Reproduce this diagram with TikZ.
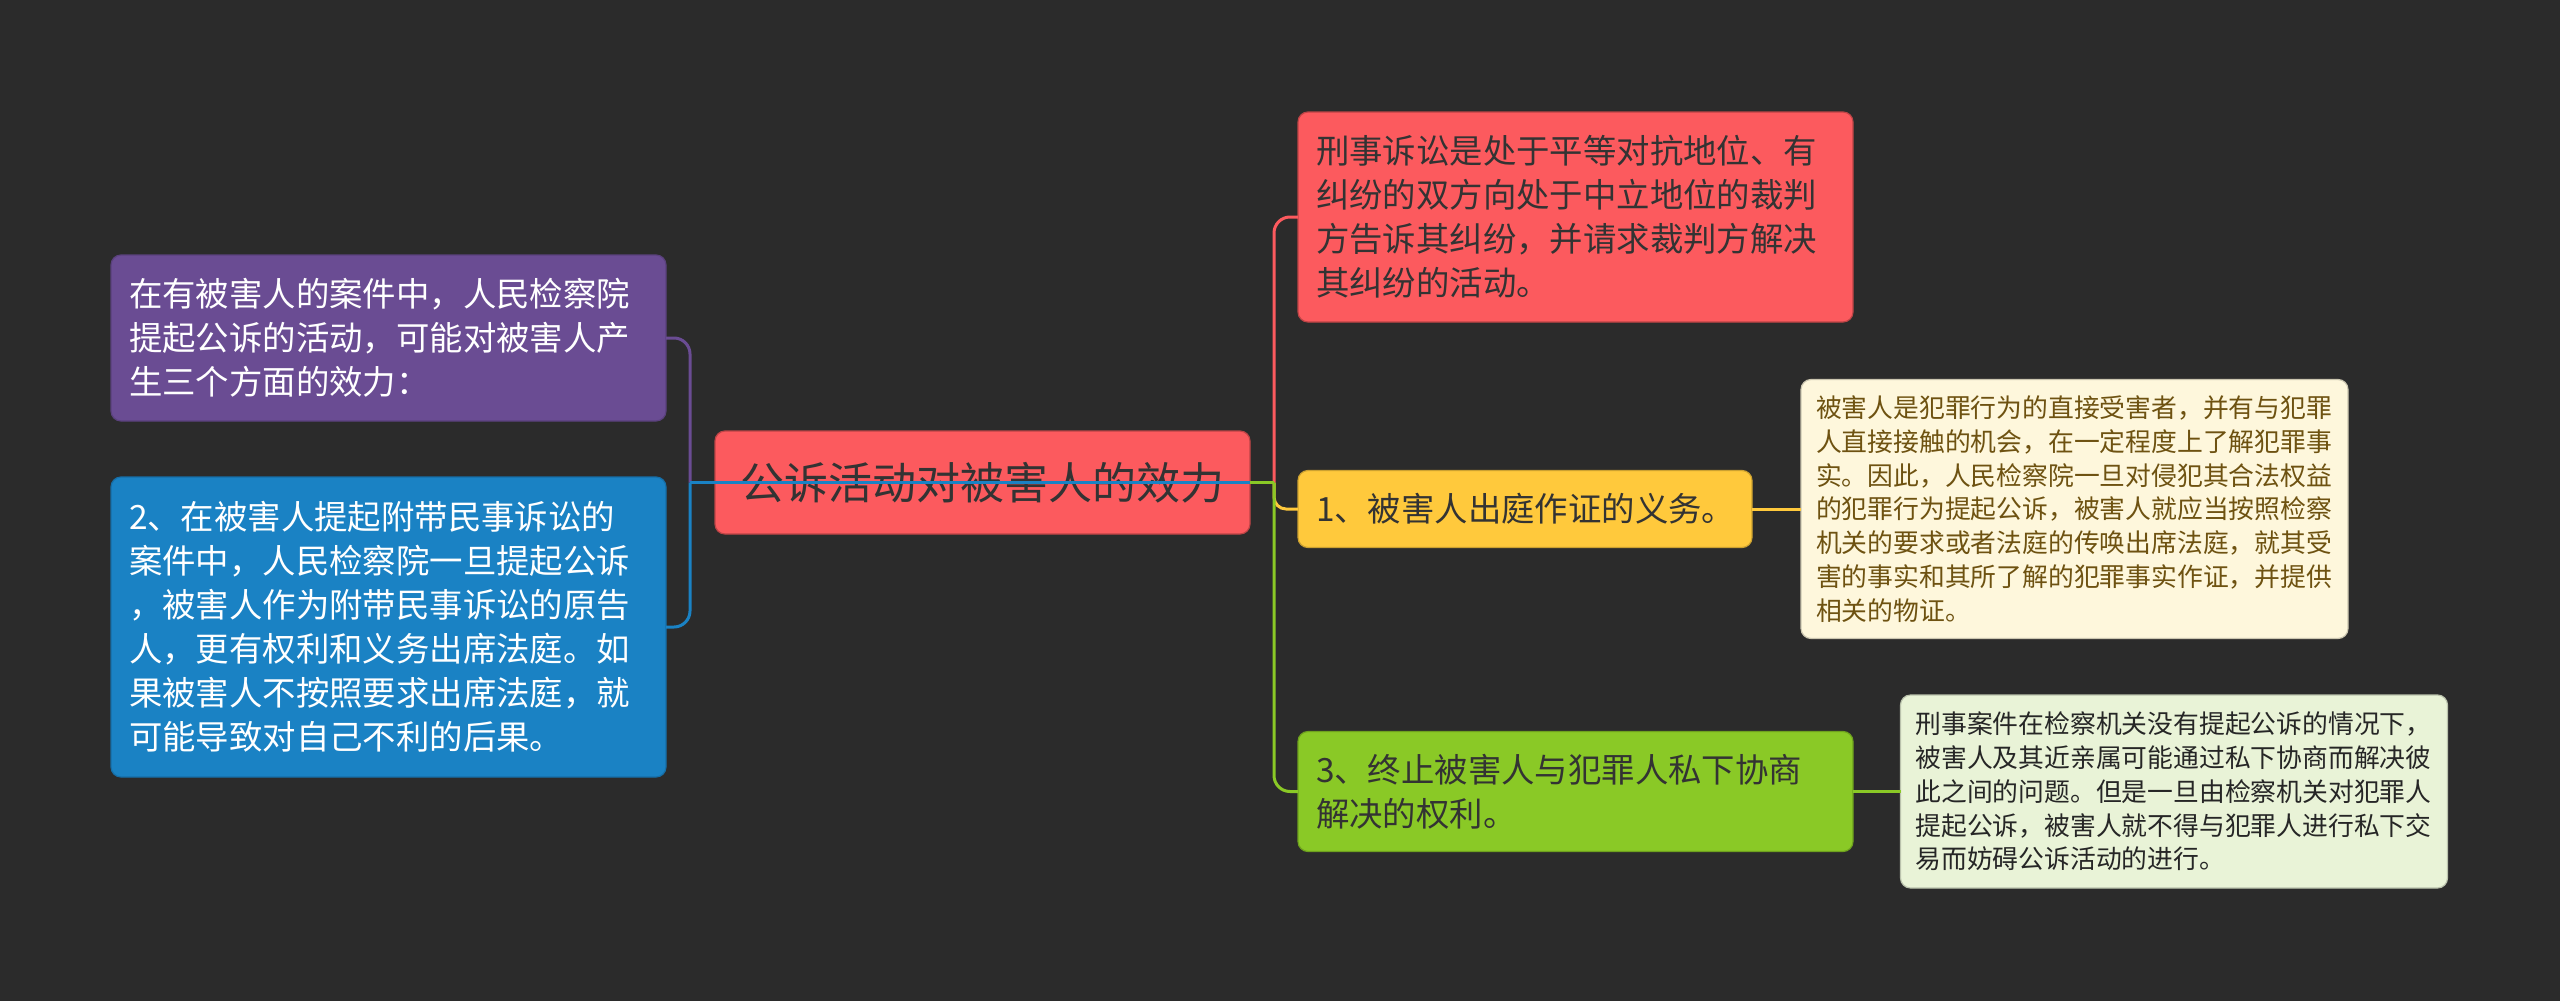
\documentclass[tikz,border=0pt]{standalone}
\usepackage{fontspec}
\newfontfamily\cjk{Noto Sans CJK SC}
\definecolor{bg}{HTML}{2B2B2B}
\definecolor{cpurple}{HTML}{6A4C93}
\definecolor{cblue}{HTML}{1A82C4}
\definecolor{cred}{HTML}{FC5A5E}
\definecolor{cyellow}{HTML}{FFC93C}
\definecolor{cgreen}{HTML}{8AC926}
\definecolor{ccream}{HTML}{FEF7DC}
\definecolor{clgreen}{HTML}{E9F3D7}
\definecolor{tbrown}{HTML}{6E5211}
\definecolor{tdark}{HTML}{333333}
\newcommand{\bigfont}{\cjk\fontsize{22pt}{28pt}\selectfont}
\newcommand{\midfont}{\cjk\fontsize{16.7pt}{22pt}\selectfont}
\newcommand{\smallfont}{\cjk\fontsize{12.9pt}{16.9pt}\selectfont}
\tikzset{
  box/.style={rounded corners=5pt, inner ysep=0pt, outer sep=0pt, anchor=center, align=left, line width=0.6pt},
  midbox/.style={box, font=\midfont, text width=259.5pt, inner xsep=9pt},
  smallbox/.style={box, font=\smallfont, text width=258.5pt, inner xsep=7.5pt},
  conn/.style={line width=1.5pt, rounded corners=8pt},
}
\begin{document}
\begin{tikzpicture}[x=0.5pt,y=-0.5pt]
\fill[bg] (0,0) rectangle (2560,1001);
\useasboundingbox (0,0) rectangle (2560,1001);

\node[midbox, fill=cpurple, draw=cpurple!85!black, text=white, minimum height=83pt] (purple) at (388.5,338)
  {在有被害人的案件中，人民检察院\\提起公诉的活动，可能对被害人产\\生三个方面的效力：};
\node[midbox, fill=cblue, draw=cblue!85!black, text=white, minimum height=150pt] (blue) at (388.5,627)
  {2、在被害人提起附带民事诉讼的\\案件中，人民检察院一旦提起公诉\\，被害人作为附带民事诉讼的原告\\人，更有权利和义务出席法庭。如\\果被害人不按照要求出席法庭，就\\可能导致对自己不利的后果。};
\node[box, align=center, font=\bigfont, fill=cred, draw=cred!75!black, text=tdark, minimum width=267.5pt, minimum height=51.5pt] (central) at (982.5,482.5)
  {公诉活动对被害人的效力};
\node[midbox, fill=cred, draw=cred!75!black, text=tdark, minimum height=105pt] (red) at (1575.5,217)
  {刑事诉讼是处于平等对抗地位、有\\纠纷的双方向处于中立地位的裁判\\方告诉其纠纷，并请求裁判方解决\\其纠纷的活动。};
\node[box, font=\midfont, text width=209pt, inner xsep=9pt, fill=cyellow, draw=cyellow!80!black, text=tdark, minimum height=38.5pt] (yellow) at (1525,509)
  {1、被害人出庭作证的义务。};
\node[smallbox, fill=ccream, draw=ccream!80!black, text=tbrown, minimum height=129.5pt] (cream) at (2074.5,509)
  {被害人是犯罪行为的直接受害者，并有与犯罪\\人直接接触的机会，在一定程度上了解犯罪事\\实。因此，人民检察院一旦对侵犯其合法权益\\的犯罪行为提起公诉，被害人就应当按照检察\\机关的要求或者法庭的传唤出席法庭，就其受\\害的事实和其所了解的犯罪事实作证，并提供\\相关的物证。};
\node[midbox, fill=cgreen, draw=cgreen!80!black, text=tdark, minimum height=60pt] (green) at (1575.5,791.5)
  {3、终止被害人与犯罪人私下协商\\解决的权利。};
\node[smallbox, fill=clgreen, draw=clgreen!80!black, text=black!85, minimum height=96.5pt] (lgreen) at (2174,791.5)
  {刑事案件在检察机关没有提起公诉的情况下，\\被害人及其近亲属可能通过私下协商而解决彼\\此之间的问题。但是一旦由检察机关对犯罪人\\提起公诉，被害人就不得与犯罪人进行私下交\\易而妨碍公诉活动的进行。};

\coordinate (hubR) at (1274,482.5);
\coordinate (hubL) at (690,482.5);

% right side
\draw[conn, cred] (hubR) |- (red.west);
\draw[conn, cyellow, rounded corners=6pt] (hubR) |- (yellow.west);
\draw[conn, cgreen] (hubR) |- (green.west);
\draw[conn, cgreen] (central.east) -- (hubR);
\draw[conn, cyellow] (yellow.east) -- (cream.west);
\draw[conn, cgreen] (green.east) -- (lgreen.west);

% left side
\draw[conn, cpurple] (hubL) |- (purple.east);
\draw[conn, cblue] (hubL) |- (blue.east);
\draw[conn, cblue] (central.east) -- (hubL);
\end{tikzpicture}
\end{document}
